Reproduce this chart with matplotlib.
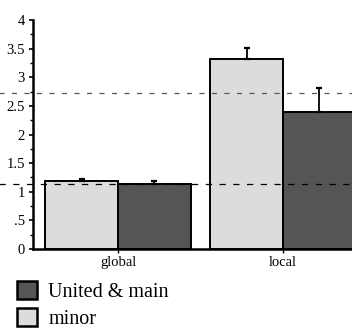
import matplotlib
import matplotlib.pyplot as plt
from matplotlib.patches import Patch

matplotlib.use("agg")
plt.rcParams["font.family"] = ["Liberation Serif", "DejaVu Serif"]

groups = ["global", "local"]
minor_vals = [1.19, 3.32]
minor_err = [0.03, 0.20]
main_vals = [1.13, 2.39]
main_err = [0.06, 0.43]
ref_lines = [2.73, 1.14]
y_ticks = [0, 0.5, 1, 1.5, 2, 2.5, 3, 3.5, 4]
y_tick_labels = ["0", ".5", "1", "1.5", "2", "2.5", "3", "3.5", "4"]

light = "#dcdcdc"
dark = "#555555"
width = 0.44

fig = plt.figure(figsize=(3.52, 3.29), dpi=100)
ax = fig.add_axes([0.094, 0.243, 0.906, 0.696])

x = range(len(groups))
ax.bar([i - width / 2 for i in x], minor_vals, width, color=light,
       edgecolor="black", linewidth=1.4, zorder=2)
ax.bar([i + width / 2 for i in x], main_vals, width, color=dark,
       edgecolor="black", linewidth=1.4, zorder=2)

# upward-only error bars
ax.errorbar([i - width / 2 for i in x], minor_vals,
            yerr=[[0] * len(minor_err), minor_err], fmt="none",
            ecolor="black", elinewidth=1.3, capsize=2.5, capthick=1.6, zorder=3)
ax.errorbar([i + width / 2 for i in x], main_vals,
            yerr=[[0] * len(main_err), main_err], fmt="none",
            ecolor="black", elinewidth=1.3, capsize=2.5, capthick=1.6, zorder=3)

# reference lines run across the whole figure
ax.axhline(ref_lines[0], xmin=-0.2, xmax=1.1, color="#555555", lw=0.9,
           dashes=(4, 6), clip_on=False, zorder=4)
ax.axhline(ref_lines[1], xmin=-0.2, xmax=1.1, color="black", lw=0.9,
           dashes=(5, 6), clip_on=False, zorder=4)

ax.set_xlim(-0.515, 1.418)
ax.set_ylim(0, 4)

ax.set_xticks(list(x))
ax.set_xticklabels(groups, fontsize=10.5)
ax.set_yticks(y_ticks)
ax.set_yticklabels(y_tick_labels, fontsize=10.5)
ax.set_yticks([0.25, 0.75, 1.25, 1.75, 2.25, 2.75, 3.25, 3.75], minor=True)
ax.tick_params(axis="y", which="major", length=3, width=1.2, pad=3)
ax.tick_params(axis="y", which="minor", length=2, width=1.0)
ax.tick_params(axis="x", which="major", length=3, width=1.0, pad=2)

for side in ["top", "right"]:
    ax.spines[side].set_visible(False)
for side in ["left", "bottom"]:
    ax.spines[side].set_linewidth(1.8)

handles = [Patch(facecolor=dark, edgecolor="black", linewidth=1.8),
           Patch(facecolor=light, edgecolor="black", linewidth=1.8)]
fig.legend(handles, ["United & main", "minor"], loc="upper left",
           bbox_to_anchor=(0.048, 0.146), frameon=False, fontsize=14.5,
           handlelength=1.0, handleheight=1.0, handletextpad=0.55,
           labelspacing=0.3, borderaxespad=0, borderpad=0)

fig.savefig("out.png", dpi=100)
